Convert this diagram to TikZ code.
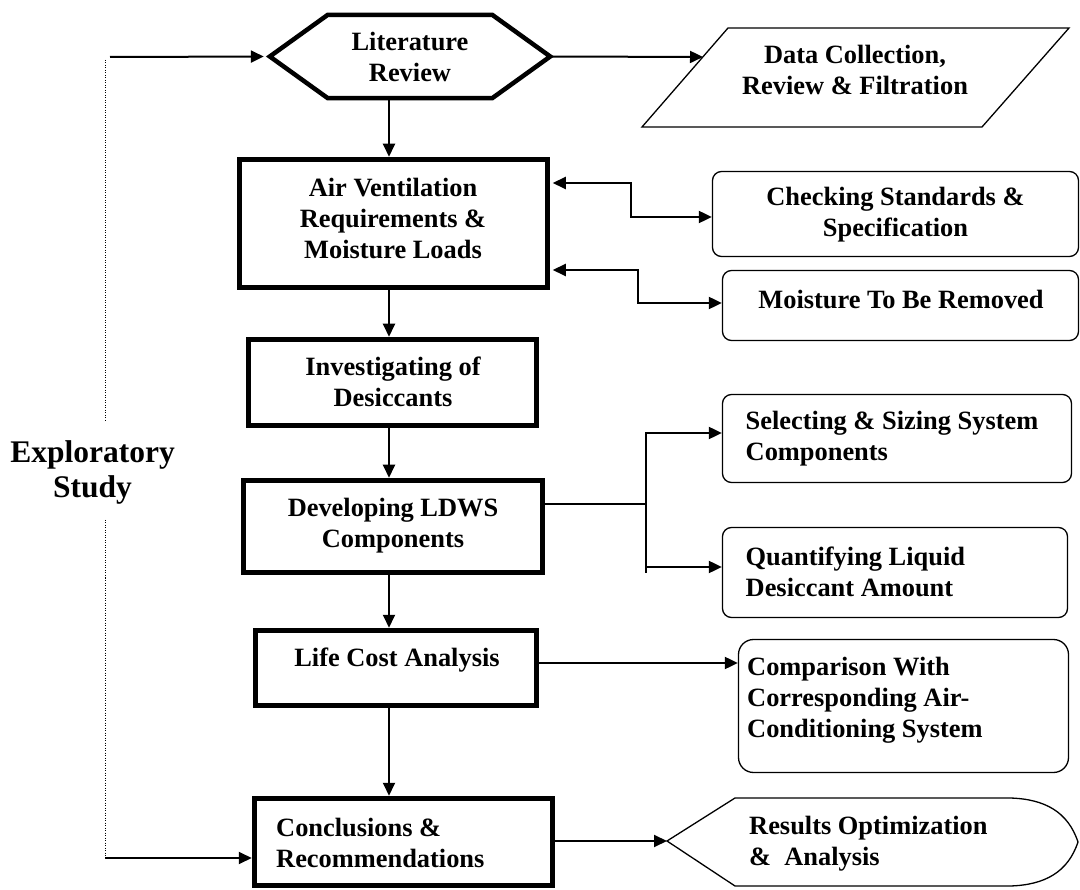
\documentclass[tikz,border=0pt]{standalone}
\usepackage{fontspec}
\setmainfont{Liberation Serif}
\usetikzlibrary{arrows.meta,calc}
\begin{document}
\begin{tikzpicture}[x=1pt,y=-1pt,
  mainbox/.style={draw, line width=5.5pt, inner sep=0pt},
  roundbox/.style={draw, line width=1.3pt, rounded corners=9pt, inner sep=0pt},
  thinshape/.style={draw, line width=1.3pt, line join=miter},
  hexshape/.style={draw, line width=4.5pt, line join=miter},
  conn/.style={line width=2pt},
  arr/.style={conn, -{Triangle[length=13pt,width=12pt]}},
  dbl/.style={conn, {Triangle[length=13pt,width=12pt]}-{Triangle[length=13pt,width=12pt]}},
  dotl/.style={line width=1pt, dash pattern=on 1pt off 1.5pt},
  txt/.style={font=\fontsize{26.4}{31}\selectfont\bfseries, align=center, inner sep=0pt},
  txtl/.style={txt, anchor=west, align=left}
]
\useasboundingbox (0,0) rectangle (1080,890);

% main column boxes
\node[minimum width=280pt, minimum height=83pt, inner sep=0pt] (lit) at (410,56.5) {};
\draw[hexshape] (lit.west) -- ([xshift=58pt]lit.north west) -- ([xshift=-58pt]lit.north east)
  -- (lit.east) -- ([xshift=-58pt]lit.south east) -- ([xshift=58pt]lit.south west) -- cycle;
\node[mainbox, minimum width=308pt, minimum height=128pt] (air) at (393.5,223.5) {};
\node[mainbox, minimum width=288pt, minimum height=86pt] (inv) at (392.5,382.5) {};
\node[mainbox, minimum width=299pt, minimum height=92pt] (dev) at (393,526.5) {};
\node[mainbox, minimum width=281pt, minimum height=75pt] (life) at (396,668) {};
\node[mainbox, minimum width=298pt, minimum height=87pt] (concl) at (403.5,842) {};

% right column shapes
\draw[thinshape] (728,28) -- (1069,28) -- (982,127) -- (642,127) -- cycle;
\coordinate (dataIn) at (703,57);
\node[roundbox, minimum width=366pt, minimum height=85pt] (check) at (895.5,214) {};
\node[roundbox, minimum width=356pt, minimum height=70pt] (moist) at (900.5,305.5) {};
\node[roundbox, minimum width=349pt, minimum height=88pt] (sel) at (897,438.5) {};
\node[roundbox, minimum width=345pt, minimum height=90pt] (quant) at (895,572.5) {};
\node[roundbox, rounded corners=15pt, minimum width=330pt, minimum height=133pt] (comp) at (903.5,706) {};
\coordinate (resW) at (667,841);
\draw[thinshape] (resW) -- (735,798) -- (1010,798) .. controls (1045,799) and (1068,812) .. (1078,842)
  .. controls (1068,872) and (1045,885) .. (1010,886) -- (735,886) -- cycle;

% texts
\node[txt] (litT) at (410,57) {Literature\\Review};
\node[txt] (airT) at (393,219) {Air Ventilation\\Requirements \&\\Moisture Loads};
\node[txt] (dataT) at (855,70) {Data Collection,\\Review \& Filtration};
\node[txt] (checkT) at (895.5,214.5) {Checking Standards \&\\Specification};
\node[txt] (moistT) at (901,300) {Moisture To Be Removed};
\node[txt] (invT) at (393,382) {Investigating of\\Desiccants};
\node[txt] (devT) at (393,526) {Developing LDWS\\Components};
\node[txt] (lifeT) at (397,660) {Life Cost Analysis};
\node[txtl] (selT) at (745.5,439) {Selecting \& Sizing System\\Components};
\node[txtl] (quantT) at (745.5,571.5) {Quantifying Liquid\\Desiccant Amount};
\node[txtl] (compT) at (747,700) {Comparison With\\Corresponding Air-\\Conditioning System};
\node[txtl] (conclT) at (276,843) {Conclusions \&\\Recommendations};
\node[txtl] (resT) at (749,844) {Results Optimization\\\&\ \ Analysis};
\node[txt, font=\fontsize{31.5}{35}\selectfont\bfseries] (expT) at (92.5,472.5) {Exploratory\\Study};

% vertical chain
\coordinate (colx) at (389,0);
\draw[arr] (lit.south -| colx) -- (air.north -| colx);
\draw[arr] (air.south -| colx) -- (inv.north -| colx);
\draw[arr] (inv.south -| colx) -- (dev.north -| colx);
\draw[arr] (dev.south -| colx) -- (life.north -| colx);
\draw[arr] (life.south -| colx) -- (concl.north -| colx);

% left loop
\coordinate (topStart) at (110,57);
\coordinate (dotTop) at (105,60);
\coordinate (dotGapA) at (105,422);
\coordinate (dotGapB) at (105,520);
\coordinate (botStart) at (105,858);
\draw[arr, shorten >=6pt] (topStart) -- (lit.west);
\draw[dotl] (dotTop) -- (dotGapA);
\draw[dotl] (dotGapB) -- (botStart);
\draw[arr] (botStart) -- (botStart -| concl.west);

% right connectors
\draw[arr] (lit.east) -- (dataIn);
\coordinate (a1) at ([xshift=2.5pt,yshift=40.5pt]air.east);
\coordinate (a2) at ([xshift=2.5pt,yshift=-46.5pt]air.east);
\draw[dbl] (a1) -- ++(78,0) |- ([yshift=-3pt]check.west);
\draw[dbl] (a2) -- ++(85,0) |- ([yshift=2.5pt]moist.west);

\coordinate (fork) at (646,504);
\coordinate (forkEnd) at (646,573);
\draw[conn] (dev.east |- fork) -- (fork);
\draw[arr] (fork) |- ([yshift=5.5pt]sel.west);
\draw[arr] (fork) |- ([yshift=5.5pt]quant.west);
\draw[conn] (fork) -- (forkEnd);

\coordinate (lc) at ([yshift=5pt]life.east);
\draw[arr] (lc) -- (lc -| comp.west);
\draw[arr] (concl.east |- resW) -- (resW);
\end{tikzpicture}
\end{document}
